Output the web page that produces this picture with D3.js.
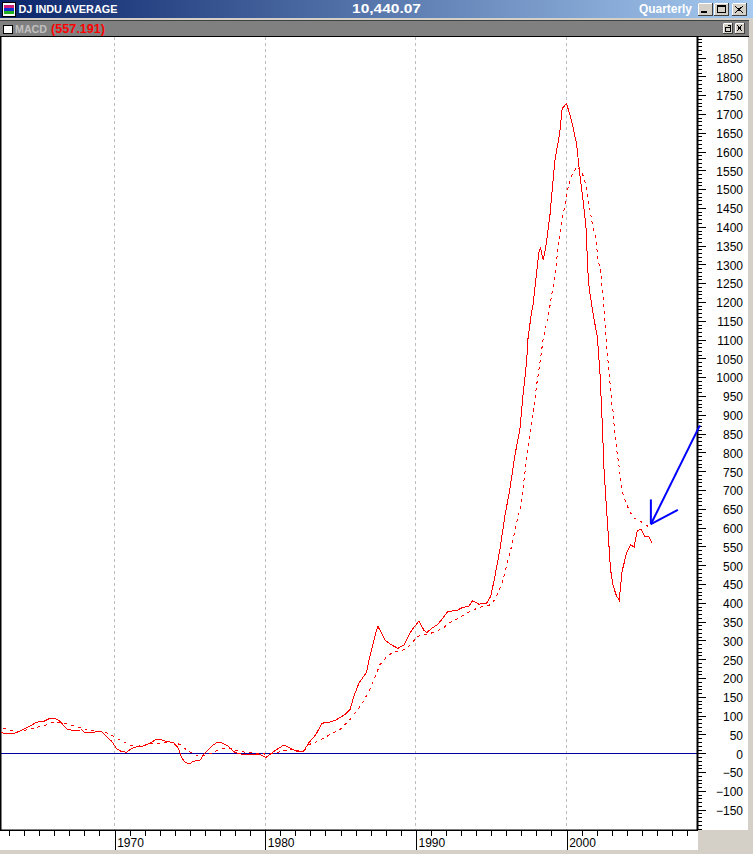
<!DOCTYPE html>
<html>
<head>
<meta charset="utf-8">
<script src="https://cdnjs.cloudflare.com/ajax/libs/d3/7.8.5/d3.min.js"></script>
<style>
    html, body { margin: 0; padding: 0; background: #d4d0c8; overflow: hidden; }
    svg { display: block; }
    text { font-family: "Liberation Sans", Arial, sans-serif; }
</style>
</head>
<body>
<div id="canvas"></div>
<script>
// MACD line
const macdYears = [1962.47,1962.73,1963.28,1963.73,1964.28,1964.84,1965.27,1965.72,1966.05,1966.38,1966.83,1967.16,1967.82,1968.04,1968.59,1968.82,1969.15,1969.48,1969.81,1970.15,1970.48,1970.81,1971.14,1971.47,1971.80,1972.35,1972.80,1973.13,1973.46,1973.90,1974.23,1974.46,1974.68,1975.01,1975.23,1975.67,1976.00,1976.45,1976.78,1977.11,1977.55,1977.88,1978.21,1978.66,1979.32,1979.65,1980.05,1980.32,1980.76,1981.25,1981.64,1982.20,1982.53,1982.92,1983.37,1983.77,1984.17,1984.63,1985.29,1985.63,1985.89,1986.24,1986.73,1986.95,1987.28,1987.48,1987.95,1988.35,1988.81,1989.21,1989.72,1990.20,1990.54,1990.73,1991.05,1991.47,1992.13,1992.73,1993.12,1993.52,1993.77,1994.19,1994.43,1994.70,1994.98,1995.25,1995.58,1995.91,1996.24,1996.57,1996.91,1997.11,1997.35,1997.44,1997.68,1997.77,1998.02,1998.17,1998.28,1998.45,1998.61,1998.90,1999.23,1999.56,1999.71,2000.00,2000.34,2000.67,2000.89,2001.11,2001.29,2001.42,2001.51,2001.82,2002.04,2002.22,2002.37,2002.50,2002.66,2002.79,2002.92,2003.10,2003.32,2003.50,2003.69,2003.99,2004.25,2004.49,2004.69,2004.96,2005.20,2005.49,2005.67];
const macdValues = [56,52,52,59,70,83,84,93,93,85,65,61,62,54,54,59,58,44,32,12,4,3,13,17,18,27,38,36,31,29,14,-12,-24,-28,-21,-19,1,19,28,28,19,5,-1,-3,-3,-3,-11,-3,10,22,14,4,5,29,50,80,82,87,103,116,152,188,215,258,311,338,301,289,279,288,327,351,327,321,332,343,377,380,388,391,406,396,399,399,418,471,542,631,702,791,862,950,1040,1101,1173,1190,1280,1333,1343,1312,1341,1430,1576,1652,1714,1728,1682,1620,1536,1466,1403,1280,1234,1155,1110,1013,880,747,649,569,489,445,418,407,484,533,554,549,591,596,576,575,560];

// signal line (dotted one)
const signalYears = [1962.62,1963.18,1963.51,1963.95,1964.34,1964.72,1965.17,1965.54,1965.94,1966.34,1966.71,1967.16,1967.53,1967.93,1968.33,1968.70,1969.15,1969.52,1969.92,1970.32,1970.72,1971.09,1971.51,1971.96,1972.29,1972.69,1973.48,1974.01,1974.34,1974.68,1975.12,1975.56,1975.89,1976.34,1976.71,1977.11,1977.55,1977.88,1978.33,1978.66,1979.10,1979.54,1979.99,1980.43,1981.10,1981.53,1981.86,1982.31,1982.64,1982.90,1983.63,1984.30,1984.96,1985.63,1986.24,1986.51,1986.84,1987.13,1987.35,1987.62,1988.17,1988.61,1989.06,1989.49,1989.82,1990.16,1990.60,1990.93,1991.38,1991.82,1992.15,1992.59,1992.92,1993.37,1993.77,1994.14,1994.58,1994.96,1995.25,1995.47,1995.76,1996.02,1996.36,1996.69,1996.91,1997.13,1997.35,1997.57,1997.79,1998.01,1998.24,1998.45,1998.85,1999.23,1999.41,1999.67,1999.94,2000.11,2000.40,2000.71,2000.93,2001.15,2001.33,2001.51,2001.73,2001.93,2002.10,2002.26,2002.35,2002.50,2002.66,2002.83,2002.99,2003.10,2003.21,2003.39,2003.54,2003.69,2003.87,2004.09,2004.42,2004.87,2005.42,2005.53];
const signalValues = [66,61,57,61,63,68,72,76,83,83,79,75,70,66,61,60,56,54,45,36,28,20,19,20,27,26,29,29,23,12,1,-8,-6,-1,5,13,15,10,5,3,1,-1,-2,-1,5,10,10,5,8,23,34,50,63,90,121,138,161,187,209,236,261,270,273,282,297,311,316,318,325,332,345,354,362,372,380,387,391,395,409,427,458,498,551,613,649,711,782,844,906,977,1039,1101,1177,1270,1333,1413,1466,1506,1541,1561,1549,1532,1501,1456,1403,1372,1310,1288,1243,1181,1083,1013,934,907,844,791,747,697,675,653,627,618,603,600];

// hand drawn arrow, as [year, value]
const arrowStem = [[2008.85, 872], [2005.6, 609]];
const arrowBarbUp = [[2005.6, 675], [2005.6, 609]];
const arrowBarbRight = [[2007.39, 647], [2005.6, 609]];

const decadeYears = [1970, 1980, 1990, 2000];
const yearTicks = d3.range(1963, 2009);
const yMajorTicks = d3.range(-150, 1851, 50);
const yMinorTicks = d3.range(-200, 1901, 10);

const w = 753, h = 854;
const plotLeft = 1, plotRight = 697, plotTop = 37, plotBottom = 830;

const svg = d3.select('#canvas').append('svg').attr('width', w).attr('height', h);

const x = d3.scaleLinear().domain([1970, 2000]).range([114.5, 566.5]);
const y = d3.scaleLinear().domain([-200, 1900]).range([828.5, 38.7]);

// window chrome
const defs = svg.append('defs');
const grad = defs.append('linearGradient').attr('id', 'titleGrad');
grad.append('stop').attr('offset', '0%').attr('stop-color', '#0a246a');
grad.append('stop').attr('offset', '100%').attr('stop-color', '#a6caf0');

svg.append('rect').attr('width', w).attr('height', h).attr('fill', '#d4d0c8');
svg.append('rect').attr('width', w).attr('height', 18).attr('fill', 'url(#titleGrad)');
svg.append('rect').attr('x', 0).attr('y', 20).attr('width', 749).attr('height', 1).attr('fill', '#404040');
svg.append('rect').attr('x', 0).attr('y', 21).attr('width', 749).attr('height', 15).attr('fill', '#808080');

// title bar icon
svg.append('rect').attr('x', 2).attr('y', 2).attr('width', 13).attr('height', 14).attr('fill', '#fff').attr('stroke', '#000').attr('shape-rendering', 'crispEdges');
[['#d0207a', 5], ['#1030d0', 8], ['#20b020', 11]].forEach(c => {
    svg.append('rect').attr('x', 4).attr('y', c[1]).attr('width', 10).attr('height', 3).attr('fill', c[0]);
});

const chromeText = (label, tx, ty, size, len, fill) => svg.append('text')
    .text(label).attr('x', tx).attr('y', ty)
    .attr('font-size', size).attr('font-weight', 'bold').attr('fill', fill)
    .attr('textLength', len).attr('lengthAdjust', 'spacingAndGlyphs');

chromeText('DJ INDU AVERAGE', 18.5, 13, 11, 99, '#fff');
chromeText('10,440.07', 352, 13, 12, 69, '#fff');
chromeText('Quarterly', 639, 13, 12, 53, '#fff');
chromeText('MACD', 15, 33, 11, 32, '#c0c0c0');
chromeText('(557.191)', 51, 33, 12, 54, '#ff0000');

svg.append('rect').attr('x', 3.5).attr('y', 25.5).attr('width', 9).attr('height', 8).attr('fill', '#fff').attr('stroke', '#000');

// window buttons
const button = (bx, by, bw, bh) => {
    svg.append('rect').attr('x', bx + 0.5).attr('y', by + 0.5).attr('width', bw).attr('height', bh)
        .attr('fill', '#d4d0c8').attr('stroke', '#404040').attr('stroke-width', 1);
    svg.append('path').attr('d', `M${bx + 0.5},${by + bh}V${by + 0.5}H${bx + bw}`).attr('fill', 'none').attr('stroke', '#fff');
};
button(698, 3, 14, 12);
button(714, 3, 14, 12);
button(732, 3, 14, 12);
button(723, 23, 9, 10);
button(735, 23, 9, 10);

const glyph = d => svg.append('path').attr('d', d).attr('fill', 'none').attr('stroke', '#000').attr('shape-rendering', 'crispEdges');
svg.append('rect').attr('x', 701).attr('y', 11).attr('width', 6).attr('height', 2).attr('fill', '#000');
svg.append('rect').attr('x', 717.5).attr('y', 5.5).attr('width', 8).attr('height', 7).attr('fill', 'none').attr('stroke', '#000');
svg.append('rect').attr('x', 717).attr('y', 5).attr('width', 9).attr('height', 2).attr('fill', '#000');
glyph('M735,6L743,13M743,6L735,13');
glyph('M725.5,27.5h5v4h-5zM727.5,25.5h3v2');
glyph('M737,25L742,31M742,25L737,31');

// plot area, right scale panel and bottom panel
svg.append('rect').attr('x', 0).attr('y', plotTop).attr('width', 748).attr('height', plotBottom - plotTop).attr('fill', '#fff');
svg.append('rect').attr('x', 0).attr('y', plotBottom).attr('width', plotRight + 1).attr('height', 20).attr('fill', '#fff');
svg.append('rect').attr('x', 0).attr('y', 36).attr('width', 749).attr('height', 1).attr('fill', '#000');
svg.append('rect').attr('x', 0).attr('y', plotTop).attr('width', 1.5).attr('height', plotBottom - plotTop).attr('fill', '#000');

// decade gridlines
svg.append('g').selectAll('line').data(decadeYears).enter().append('line')
    .attr('x1', d => x(d)).attr('x2', d => x(d))
    .attr('y1', plotTop).attr('y2', plotBottom)
    .attr('stroke', '#bdbdbd').attr('stroke-dasharray', '3,3')
    .attr('shape-rendering', 'crispEdges');

// zero line
svg.append('line')
    .attr('x1', plotLeft).attr('x2', plotRight)
    .attr('y1', y(0)).attr('y2', y(0))
    .attr('stroke', '#0000a0').attr('shape-rendering', 'crispEdges');

const line = d3.line().x(d => x(d[0])).y(d => y(d[1]));

svg.append('path')
    .attr('d', line(signalYears.map((d, i) => [d, signalValues[i]])))
    .attr('fill', 'none').attr('stroke', '#ff0000')
    .attr('stroke-dasharray', '3,4')
    .attr('shape-rendering', 'crispEdges');

svg.append('path')
    .attr('d', line(macdYears.map((d, i) => [d, macdValues[i]])))
    .attr('fill', 'none').attr('stroke', '#ff0000')
    .attr('shape-rendering', 'crispEdges');

// y axis
const yMinor = svg.append('g').attr('transform', `translate(${plotRight},0)`)
    .call(d3.axisRight(y).tickValues(yMinorTicks).tickSize(5).tickFormat(''));
const yMajor = svg.append('g').attr('transform', `translate(${plotRight},0)`)
    .call(d3.axisRight(y).tickValues(yMajorTicks).tickSize(9).tickFormat(d3.format('d')));
yMajor.selectAll('text')
    .attr('x', 46).attr('dy', '0.4em').attr('text-anchor', 'end')
    .attr('font-size', 12).attr('font-family', '"Liberation Sans", Arial, sans-serif').attr('fill', '#000');
[yMinor, yMajor].forEach(g => {
    g.select('.domain').remove();
    g.selectAll('line').attr('stroke', '#000').attr('shape-rendering', 'crispEdges');
});
svg.append('rect').attr('x', plotRight - 0.5).attr('y', plotTop).attr('width', 2).attr('height', plotBottom - plotTop).attr('fill', '#000');

// x axis
const xMinor = svg.append('g').attr('transform', `translate(0,${plotBottom})`)
    .call(d3.axisBottom(x).tickValues(yearTicks).tickSize(6).tickFormat(''));
const xMajor = svg.append('g').attr('transform', `translate(0,${plotBottom})`)
    .call(d3.axisBottom(x).tickValues(decadeYears).tickSize(20).tickFormat(d3.format('d')));
xMajor.selectAll('text')
    .attr('x', 15.5).attr('y', 17).attr('dy', 0)
    .attr('font-size', 12).attr('font-family', '"Liberation Sans", Arial, sans-serif').attr('fill', '#000');
[xMinor, xMajor].forEach(g => {
    g.select('.domain').remove();
    g.selectAll('line').attr('stroke', '#000').attr('shape-rendering', 'crispEdges');
});
svg.append('rect').attr('x', 0).attr('y', plotBottom - 0.5).attr('width', plotRight + 1).attr('height', 1.5).attr('fill', '#000');

// blue arrow on top of everything
[arrowStem, arrowBarbUp, arrowBarbRight].forEach(seg => {
    svg.append('path').attr('d', line(seg))
        .attr('fill', 'none').attr('stroke', '#0000ff').attr('stroke-width', 2);
});
</script>
</body>
</html>
